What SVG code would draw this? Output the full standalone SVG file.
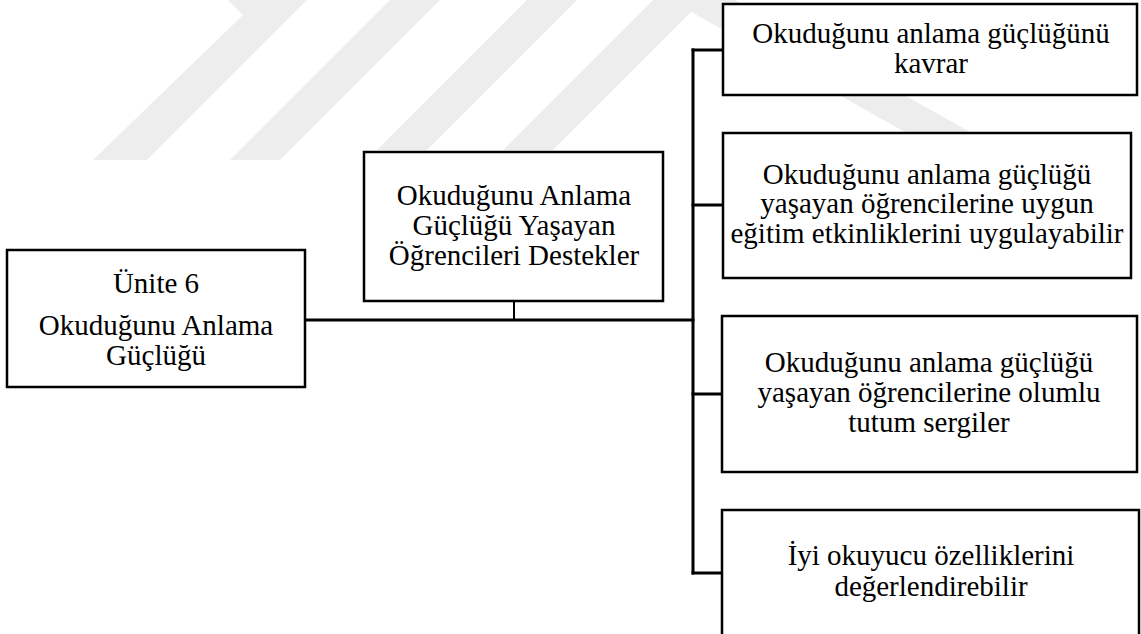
<svg xmlns="http://www.w3.org/2000/svg" width="1141" height="634" viewBox="0 0 1141 634">
  <style>
    .box { fill: #ffffff; stroke: #000000; stroke-width: 2.5; }
    .wire { fill: none; stroke: #000000; stroke-width: 3; stroke-linecap: square; }
    .thin { stroke-width: 2; }
    .label { font-family: "Liberation Serif", "Times New Roman", serif; font-size: 29px; fill: #000000; text-anchor: middle; }
    .mark { fill: #ededed; }
  </style>

  <rect x="0" y="0" width="1141" height="634" fill="#ffffff"/>

  <!-- faint background emblem: slanted bars -->
  <g id="emblem">
    <polygon class="mark" points="228,0 243,15 93,160 147,160 307,0"/>
    <polygon class="mark" points="390,0 230,160 280,160 440,0"/>
    <polygon class="mark" points="527,0 377,150 427,150 577,0"/>
    <polygon class="mark" points="653,0 503,150 553,150 703,0"/>
    <polygon class="mark" points="670,0 735,0 970,132 905,132"/>
  </g>

  <!-- connectors -->
  <g id="connectors">
    <line class="wire" x1="305" y1="320" x2="693" y2="320"/>
    <line class="wire thin" x1="514" y1="301" x2="514" y2="320"/>
    <line class="wire" x1="693" y1="50" x2="693" y2="573"/>
    <line class="wire" x1="693" y1="50" x2="723" y2="50"/>
    <line class="wire" x1="693" y1="205" x2="723" y2="205"/>
    <line class="wire" x1="693" y1="394" x2="722" y2="394"/>
    <line class="wire" x1="693" y1="573" x2="722" y2="573"/>
  </g>

  <g id="unit">
    <rect class="box" x="7" y="250" width="298" height="137"/>
    <text class="label" x="156" y="293">Ünite 6</text>
    <text class="label" x="156" y="335">Okuduğunu Anlama</text>
    <text class="label" x="156" y="365">Güçlüğü</text>
  </g>

  <g id="support">
    <rect class="box" x="364" y="152" width="299" height="149"/>
    <text class="label" x="514" y="205">Okuduğunu Anlama</text>
    <text class="label" x="514" y="235">Güçlüğü Yaşayan</text>
    <text class="label" x="514" y="265">Öğrencileri Destekler</text>
  </g>

  <g id="outcome1">
    <rect class="box" x="723" y="4" width="414" height="91"/>
    <text class="label" x="931" y="43">Okuduğunu anlama güçlüğünü</text>
    <text class="label" x="931" y="73">kavrar</text>
  </g>

  <g id="outcome2">
    <rect class="box" x="723" y="133" width="408" height="145"/>
    <text class="label" x="927" y="184">Okuduğunu anlama güçlüğü</text>
    <text class="label" x="927" y="213">yaşayan öğrencilerine uygun</text>
    <text class="label" x="927" y="243">eğitim etkinliklerini uygulayabilir</text>
  </g>

  <g id="outcome3">
    <rect class="box" x="722" y="316" width="415" height="156"/>
    <text class="label" x="929" y="372">Okuduğunu anlama güçlüğü</text>
    <text class="label" x="929" y="402">yaşayan öğrencilerine olumlu</text>
    <text class="label" x="929" y="432">tutum sergiler</text>
  </g>

  <g id="outcome4">
    <rect class="box" x="722" y="510" width="417" height="140"/>
    <text class="label" x="931" y="565">İyi okuyucu özelliklerini</text>
    <text class="label" x="931" y="596">değerlendirebilir</text>
  </g>
</svg>
